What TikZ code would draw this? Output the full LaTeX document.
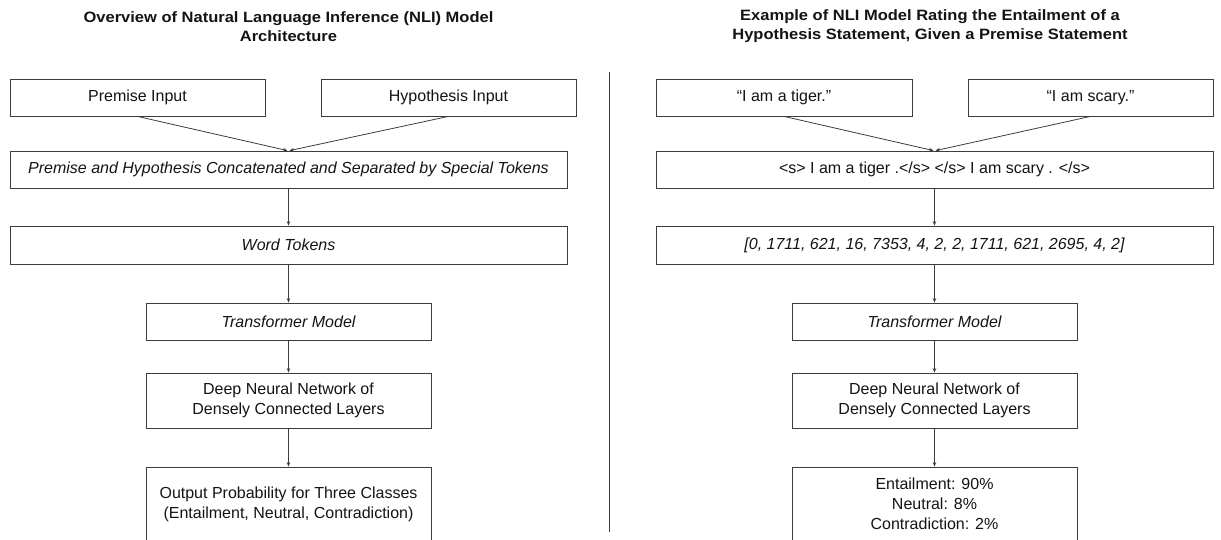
\documentclass[tikz,border=0pt]{standalone}
\usepackage{fontspec}
\setmainfont{Liberation Sans}
\newfontfamily\titlefont{Liberation Sans}[FakeStretch=1.1]
\usetikzlibrary{arrows.meta}
\definecolor{ln}{RGB}{60,60,60}
\definecolor{tx}{RGB}{20,20,20}
\tikzset{
  box/.style={draw=ln, line width=0.8pt, rectangle, inner sep=0pt, align=center, text=tx,
    font=\fontsize{16}{20}\selectfont, minimum height=37pt},
  arr/.style={draw=ln, line width=0.8pt, -{Stealth[length=4.5pt,width=3.5pt]}},
  ttl/.style={font=\titlefont\bfseries\fontsize{15}{19}\selectfont, align=center, text=tx},
  divider/.style={draw=ln, line width=0.8pt}
}
\begin{document}
\begin{tikzpicture}[x=1pt,y=-1pt]
\useasboundingbox (0,0) rectangle (1221,539);
\clip (0,0) rectangle (1221,539);
\fill[white] (0,0) rectangle (1221,539);

% titles
\node[ttl] (t1) at (288.5,26.5) {Overview of Natural Language Inference (NLI) Model\\Architecture};
\node[ttl] (t2) at (930,26.5) {Example of NLI Model Rating the Entailment of a\\Hypothesis Statement, Given a Premise Statement};

% divider
\coordinate (d1) at (609,72);
\coordinate (d2) at (609,532);
\draw[divider] (d1) -- (d2);

% left column
\node[box, minimum width=255pt] (prem) at (137.5,97.5) {Premise Input};
\node[box, minimum width=255pt] (hyp) at (448.5,97.5) {Hypothesis Input};
\node[box, minimum width=557pt] (cat) at (288.5,169.5) {\itshape Premise and Hypothesis Concatenated and Separated by Special Tokens};
\node[box, minimum width=557pt, minimum height=38pt] (wt) at (288.5,245) {\itshape Word Tokens};
\node[box, minimum width=285pt] (tm) at (288.5,321.5) {\itshape Transformer Model};
\node[box, minimum width=285pt, minimum height=55pt] (dnn) at (288.5,400.5) {Deep Neural Network of\\Densely Connected Layers};
\node[box, minimum width=285pt, minimum height=74pt] (out) at (288.5,504) {Output Probability for Three Classes\\(Entailment, Neutral, Contradiction)};

\draw[arr] (prem.south) -- ([xshift=-1pt]cat.north);
\draw[arr] (hyp.south) -- ([xshift=1pt]cat.north);
\draw[arr] (cat.south) -- (wt.north);
\draw[arr] (wt.south) -- (tm.north);
\draw[arr] (tm.south) -- (dnn.north);
\draw[arr] (dnn.south) -- (out.north);

% right column
\node[box, minimum width=256pt] (tiger) at (784,97.5) {“I am a tiger.”};
\node[box, minimum width=245pt] (scary) at (1090.5,97.5) {“I am scary.”};
\node[box, minimum width=557pt] (seq) at (934.5,169.5) {<s> I am a tiger .</s> </s> I am scary . </s>};
\node[box, minimum width=557pt, minimum height=38pt] (tok) at (934.5,245) {\itshape [0, 1711, 621, 16, 7353, 4, 2, 2, 1711, 621, 2695, 4, 2]};
\node[box, minimum width=285pt] (tm2) at (934.5,321.5) {\itshape Transformer Model};
\node[box, minimum width=285pt, minimum height=55pt] (dnn2) at (934.5,400.5) {Deep Neural Network of\\Densely Connected Layers};
\node[box, minimum width=285pt, minimum height=74pt] (out2) at (934.5,504) {Entailment: 90\%\\Neutral: 8\%\\Contradiction: 2\%};

\draw[arr] (tiger.south) -- ([xshift=-1pt]seq.north);
\draw[arr] (scary.south) -- ([xshift=1pt]seq.north);
\draw[arr] (seq.south) -- (tok.north);
\draw[arr] (tok.south) -- (tm2.north);
\draw[arr] (tm2.south) -- (dnn2.north);
\draw[arr] (dnn2.south) -- (out2.north);
\end{tikzpicture}
\end{document}
